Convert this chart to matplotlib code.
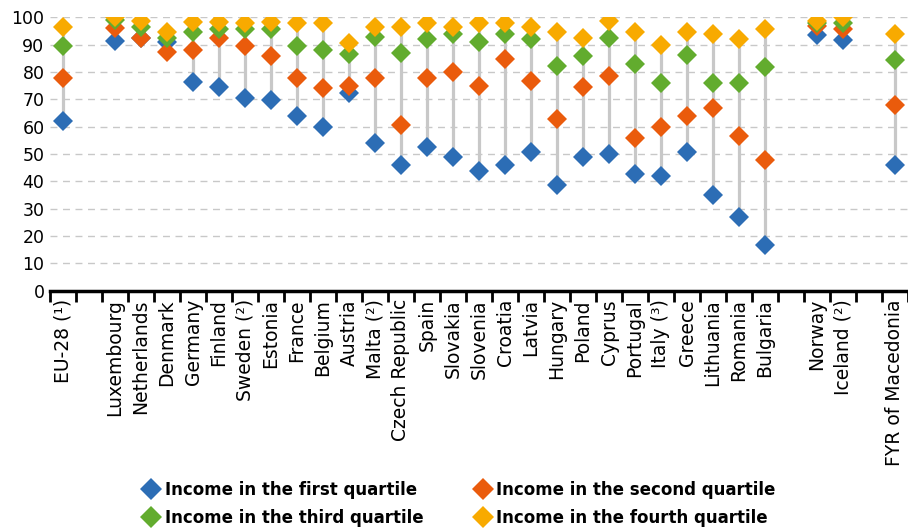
import numpy as np
import matplotlib
matplotlib.use('Agg')
import matplotlib.pyplot as plt
from matplotlib.lines import Line2D

nan = np.nan

countries = ['EU-28 (\u00b9)', '',
             'Luxembourg', 'Netherlands', 'Denmark', 'Germany', 'Finland',
             'Sweden (\u00b2)', 'Estonia', 'France', 'Belgium', 'Austria',
             'Malta (\u00b2)', 'Czech Republic', 'Spain', 'Slovakia', 'Slovenia',
             'Croatia', 'Latvia', 'Hungary', 'Poland', 'Cyprus', 'Portugal',
             'Italy (\u00b3)', 'Greece', 'Lithuania', 'Romania', 'Bulgaria', '',
             'Norway', 'Iceland (\u00b2)', '', 'FYR of Macedonia']

q1 = [62.0, nan,
      91.5, 92.5, 90.8, 76.4, 74.5, 70.3, 69.7, 63.9, 60.0, 72.4,
      53.9, 46.1, 52.7, 48.8, 43.9, 46.1, 50.6, 38.8, 48.8, 50.0, 42.8,
      41.9, 50.6, 34.9, 26.8, 16.8, nan,
      93.6, 91.7, nan, 46.1]
q2 = [77.8, nan,
      96.2, 92.3, 87.4, 87.9, 92.3, 89.6, 85.8, 77.8, 74.2, 74.8,
      77.8, 60.6, 77.8, 80.1, 74.7, 84.6, 76.6, 62.8, 74.6, 78.5, 55.9,
      60.0, 63.9, 66.8, 56.6, 47.7, nan,
      97.0, 95.9, nan, 67.9]
q3 = [89.6, nan,
      99.0, 96.5, 92.3, 94.5, 95.6, 95.6, 95.6, 89.6, 87.9, 86.4,
      92.8, 86.8, 91.9, 94.0, 90.9, 94.0, 91.9, 82.2, 85.9, 92.5, 82.8,
      76.0, 86.2, 76.0, 76.0, 82.0, nan,
      97.8, 97.8, nan, 84.5]
q4 = [96.5, nan,
      100.0, 98.7, 94.5, 98.4, 98.4, 97.8, 98.4, 97.8, 97.8, 90.6,
      96.5, 96.5, 97.8, 96.5, 97.8, 97.8, 96.5, 94.5, 92.5, 98.6, 94.5,
      89.8, 94.5, 93.9, 91.9, 95.8, nan,
      98.6, 100.0, nan, 93.9]

series = [q1, q2, q3, q4]
names = ['Income in the first quartile', 'Income in the second quartile',
         'Income in the third quartile', 'Income in the fourth quartile']
colors = ['#2C6DB5', '#EA5B0C', '#62AC2E', '#F8AA00']

x = np.arange(len(countries))
data = np.array(series)

fig = plt.figure(figsize=(9.08, 5.29), dpi=100)
ax = fig.add_axes([50 / 908, 1 - 290.7 / 529, 858 / 908, (290.7 - 17.3) / 529])

# grey range line from lowest to highest quartile
lo = np.nanmin(data, axis=0)
hi = np.nanmax(data, axis=0)
ax.vlines(x, lo, hi, color='#c8c8c8', lw=2.3, zorder=2)

for vals, c, n in zip(series, colors, names):
    ax.plot(x, vals, linestyle='none', marker='D', ms=10, color=c,
            markeredgewidth=0, label=n, zorder=3)

ax.set_xlim(-0.5, len(countries) - 0.5)
ax.set_ylim(0, 100)
ax.set_yticks(range(0, 101, 10))
ax.yaxis.grid(True, color='#c8c8c8', linestyle=(0, (5, 4)), lw=1)
ax.set_axisbelow(True)
for s in ['top', 'right', 'left']:
    ax.spines[s].set_visible(False)
ax.spines['bottom'].set_linewidth(2.5)
ax.tick_params(axis='y', length=0, labelsize=12.5, pad=4)

ax.set_xticks(x)
ax.set_xticklabels(countries, rotation=90, fontsize=13.5)
ax.tick_params(axis='x', length=0, pad=6)
ax.set_xticks(np.arange(-0.5, len(countries), 1), minor=True)
ax.tick_params(axis='x', which='minor', length=8, width=2, direction='out')

handles = [Line2D([], [], linestyle='none', marker='D', ms=11, color=c,
                  markeredgewidth=0) for c in colors]
order = [0, 2, 1, 3]
fig.legend([handles[i] for i in order], [names[i] for i in order],
           ncol=2, loc='lower center', bbox_to_anchor=(0.505, -0.025),
           frameon=False, prop={'weight': 'bold', 'size': 12},
           handletextpad=0.2, columnspacing=3.0, labelspacing=0.6,
           handlelength=1.2)

fig.savefig('out.png', dpi=100)
